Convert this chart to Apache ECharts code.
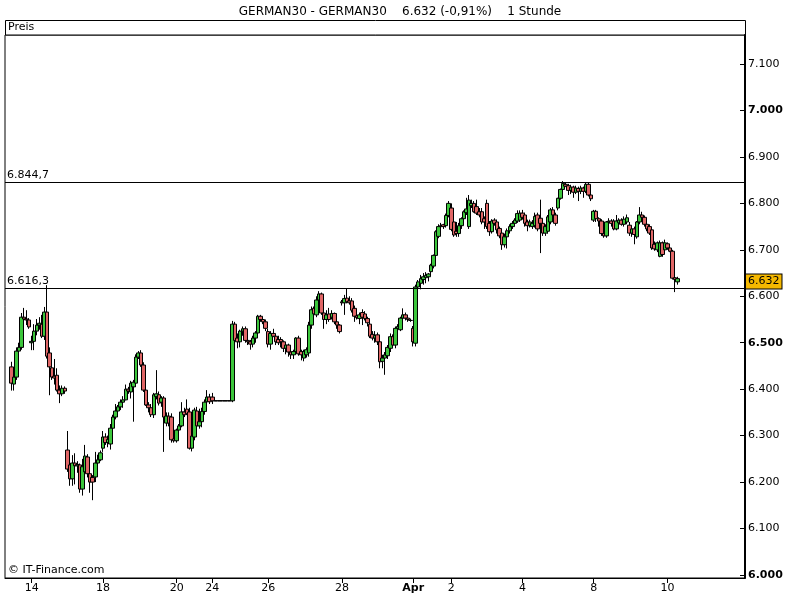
<!DOCTYPE html>
<html><head><meta charset="utf-8">
<script src="https://cdn.jsdelivr.net/npm/echarts/dist/echarts.min.js"></script>
<style>html,body{margin:0;padding:0;background:#fff}#c{width:800px;height:600px}</style>
</head><body><div id="c"></div>
<script>
// hourly candles, one line per trading day
const opens = [
 6448,6411,6426,6482,6490,6555,6551,6549,
 6500,6503,6525,6538,6540,6514,6566,6478,6446,6428,6430,6398,6390,6402,
 6269,6237,6207,6241,6235,6237,6185,6222,6254,6218,6210,6211,6241,6248,
 6273,6297,6285,6282,6316,6340,6353,6362,6372,6377,6400,6394,6405,6413,
 6469,6478,6452,6398,6366,6360,6345,6384,6388,6372,6381,6327,6342,6340,
 6293,6289,6312,6321,6351,6357,6351,6273,6297,6353,6321,6330,6352,6373,6383,6383,
 6375,6375,6375,6375,6375,6375,6375,
 6375,6540,6510,6502,6525,6530,6505,6502,6497,6510,6521,6557,6550,6545,6524,
 6497,6520,6514,6507,6507,6502,6488,6495,6480,6474,6481,6510,6481,6467,
 6474,6478,6538,6574,6560,6592,6605,6564,6550,6562,6555,6563,6545,6538,
 6588,6586,6596,6590,6590,6574,6558,6552,6565,6562,6552,6540,6518,6510,
 6517,6502,6460,6467,6472,6488,6513,6495,6531,6528,6553,6560,6553,6548,
 6531,6499,6620,6628,6636,6640,6642,6653,6665,6688,6729,6750,6754,6752,6774,
 6790,6760,6740,6735,6752,6767,6780,6750,6795,6800,6793,6782,6782,6767,
 6800,6757,6739,6764,6760,6746,6736,6711,6728,6741,6750,6757,6762,6764,
 6779,6775,6760,6752,6750,6752,6775,6768,6757,6736,6740,6760,6786,6775,
 6790,6811,6830,6841,6838,6828,6835,6824,6832,6826,6833,6826,6841,6818,
 6764,6783,6767,6762,6735,6730,6760,6762,6762,6745,6758,6764,6755,6760,
 6753,6736,6745,6728,6760,6775,6770,6755,6750,6743,6712,6700,6686,6715,
 6700,6713,6704,6697,6640,6631
];
const highs = [
 6459,6440,6490,6500,6564,6575,6570,6553,
 6515,6540,6551,6555,6560,6577,6624,6490,6465,6465,6445,6408,6408,6406,
 6310,6258,6258,6262,6245,6240,6250,6280,6260,6225,6215,6265,6259,6268,
 6310,6305,6300,6325,6345,6368,6366,6378,6385,6410,6405,6418,6420,6475,
 6482,6484,6458,6400,6372,6368,6392,6441,6395,6385,6385,6350,6350,6348,
 6300,6315,6325,6372,6360,6378,6360,6305,6360,6362,6358,6360,6378,6398,6390,6392,
 6375,6375,6375,6375,6375,6375,6375,
 6547,6545,6520,6528,6535,6535,6510,6506,6515,6525,6560,6560,6555,6550,6530,
 6525,6530,6518,6515,6512,6505,6500,6498,6485,6485,6512,6515,6485,6485,
 6490,6545,6578,6578,6600,6611,6608,6572,6570,6575,6570,6565,6550,6540,
 6592,6603,6617,6600,6596,6580,6562,6565,6572,6568,6556,6545,6525,6525,
 6522,6508,6474,6480,6495,6520,6518,6535,6540,6556,6574,6565,6558,6552,
 6536,6625,6635,6646,6650,6652,6650,6670,6690,6742,6755,6758,6756,6778,6805,
 6800,6765,6760,6758,6770,6785,6812,6818,6808,6805,6808,6790,6790,6772,
 6808,6762,6766,6768,6765,6750,6740,6735,6746,6755,6762,6768,6785,6785,
 6786,6780,6765,6765,6764,6780,6780,6808,6762,6755,6775,6790,6792,6780,
 6812,6832,6848,6845,6842,6840,6838,6838,6836,6838,6836,6845,6846,6822,
 6786,6786,6770,6766,6748,6762,6768,6766,6766,6775,6768,6768,6772,6776,
 6760,6748,6750,6762,6792,6782,6774,6760,6755,6746,6718,6718,6720,6718,
 6722,6716,6708,6700,6645,6642
];
const lows = [
 6397,6397,6420,6470,6485,6545,6538,6530,
 6484,6484,6516,6528,6510,6506,6466,6387,6420,6410,6395,6370,6385,6390,
 6222,6192,6192,6195,6220,6177,6171,6215,6210,6177,6161,6200,6238,6245,
 6265,6280,6275,6270,6310,6335,6345,6355,6360,6376,6390,6380,6330,6405,
 6465,6448,6394,6364,6350,6340,6338,6378,6365,6362,6265,6320,6320,6285,
 6285,6285,6305,6318,6340,6345,6270,6266,6290,6318,6315,6318,6345,6370,6368,6368,
 6375,6375,6375,6375,6375,6375,6375,
 6372,6500,6488,6490,6515,6500,6495,6485,6490,6500,6515,6545,6540,6525,6490,
 6485,6512,6495,6495,6490,6480,6475,6470,6465,6465,6475,6472,6462,6460,
 6468,6470,6530,6555,6555,6585,6560,6530,6540,6545,6550,6540,6530,6520,
 6580,6560,6585,6582,6565,6545,6550,6540,6538,6548,6535,6510,6505,6500,
 6495,6445,6445,6431,6465,6480,6490,6488,6520,6525,6548,6548,6545,6545,
 6492,6492,6615,6615,6625,6628,6632,6645,6660,6685,6725,6740,6745,6748,6770,
 6740,6728,6728,6728,6745,6760,6775,6745,6790,6780,6775,6770,6755,6745,
 6745,6730,6735,6752,6735,6725,6700,6705,6703,6735,6745,6752,6758,6760,
 6765,6750,6740,6748,6745,6748,6740,6693,6730,6730,6735,6755,6770,6752,
 6785,6808,6825,6835,6818,6820,6812,6820,6805,6820,6812,6822,6815,6805,
 6760,6760,6750,6730,6726,6726,6752,6750,6742,6742,6752,6752,6750,6755,
 6730,6728,6712,6724,6755,6765,6750,6740,6732,6700,6698,6695,6684,6685,
 6695,6700,6695,6636,6609,6625
];
const closes = [
 6413,6426,6482,6490,6555,6551,6549,6534,
 6503,6525,6538,6542,6514,6566,6471,6448,6426,6424,6398,6390,6402,6396,
 6228,6207,6241,6235,6238,6185,6233,6256,6218,6200,6200,6241,6248,6263,
 6297,6285,6292,6316,6340,6353,6362,6372,6377,6400,6396,6413,6415,6469,
 6478,6452,6398,6366,6360,6345,6388,6390,6370,6381,6340,6342,6327,6291,
 6289,6312,6321,6351,6345,6347,6273,6299,6355,6321,6330,6352,6372,6383,6373,6375,
 6375,6375,6375,6375,6375,6375,6375,
 6540,6505,6502,6525,6530,6505,6502,6497,6510,6521,6557,6550,6545,6531,6497,
 6520,6514,6502,6500,6502,6488,6495,6480,6474,6481,6510,6476,6474,6481,
 6485,6538,6571,6562,6592,6605,6564,6550,6560,6550,6563,6545,6538,6524,
 6586,6595,6588,6586,6570,6557,6554,6560,6555,6552,6543,6514,6510,6516,
 6502,6459,6467,6474,6490,6513,6495,6531,6535,6553,6560,6553,6550,6548,
 6502,6620,6631,6638,6642,6645,6648,6667,6688,6739,6750,6752,6750,6774,6800,
 6744,6732,6735,6752,6767,6782,6788,6807,6800,6782,6779,6775,6760,6760,
 6750,6739,6762,6757,6743,6730,6711,6728,6741,6750,6757,6764,6778,6779,
 6770,6757,6752,6760,6757,6772,6745,6757,6736,6750,6771,6786,6775,6757,
 6811,6830,6843,6837,6828,6835,6824,6833,6826,6833,6826,6841,6818,6810,
 6783,6767,6762,6735,6730,6760,6762,6757,6745,6762,6764,6755,6766,6769,
 6736,6745,6733,6760,6775,6770,6755,6745,6736,6704,6702,6715,6715,6690,
 6715,6704,6697,6639,6636,6638
];
const leadingEmptySlots = 2;
const totalSlots = 291;
const dayLabels = ['14','18','20','24','26','28','Apr','2','4','8','10'];
const dayLabelSlots = [10,38,67,81,103,132,160,175,203,231,260];
const boldDayLabels = ['Apr'];
const yTicks = [6000,6100,6200,6300,6400,6500,6600,6700,6800,6900,7000,7100];
const boldTicks = [6000,6500,7000];
const refLines = [6844.7, 6616.3];
const lastPrice = 6632;
const titleText = 'GERMAN30 - GERMAN30    6.632 (-0,91%)    1 Stunde';

function fmtInt(v){ return String(Math.round(v)).replace(/\B(?=(\d{3})+(?!\d))/g,'.'); }
function fmtDec(v){ const p = v.toFixed(1).split('.'); return fmtInt(+p[0]) + ',' + p[1]; }

const categories = [];
for (let i = 0; i < totalSlots; i++) categories.push(String(i));
const candleData = [];
for (let i = 0; i < totalSlots; i++) {
  const k = i - leadingEmptySlots;
  if (k >= 0 && k < opens.length) candleData.push([opens[k], closes[k], lows[k], highs[k]]);
  else candleData.push(['-','-','-','-']);
}

const FONT = 'DejaVu Sans';
const chart = echarts.init(document.getElementById('c'), null, {renderer:'canvas'});
const markData = refLines.map(v => ({
  yAxis: v,
  lineStyle: {color:'#000', width:1, type:'solid'},
  label: {show:true, position:'insideStartTop', formatter: fmtDec(v), color:'#000', fontSize:11, fontFamily:FONT, distance:2}
}));
markData.push({
  yAxis: lastPrice,
  lineStyle: {color:'rgba(0,0,0,0)', width:1},
  label: {show:true, position:'end', formatter: fmtInt(lastPrice), color:'#000', fontSize:11, fontFamily:FONT,
          backgroundColor:'#f5b800', borderColor:'#000', borderWidth:1, padding:[2,2,1,2], distance:1, opacity:1}
});

chart.setOption({
  animation:false,
  backgroundColor:'#fff',
  title:{text:titleText, left:'center', top:1, textStyle:{fontSize:12, fontWeight:'normal', color:'#000', fontFamily:FONT}},
  grid:{left:5, right:55, top:35, bottom:22, show:true, borderColor:'#000', borderWidth:1, backgroundColor:'#fff'},
  xAxis:{
    type:'category', data:categories, boundaryGap:true,
    axisLine:{show:true, lineStyle:{color:'#000', width:1}},
    axisTick:{show:true, alignWithLabel:true, length:5, interval:(i)=>dayLabelSlots.includes(i), lineStyle:{color:'#000'}},
    axisLabel:{show:true, interval:(i)=>dayLabelSlots.includes(i), color:'#000', fontSize:11, fontFamily:FONT, margin:5,
      formatter:(v,i)=>{ const t = dayLabels[dayLabelSlots.indexOf(i)] || ''; return boldDayLabels.includes(t) ? '{b|'+t+'}' : t; },
      rich:{b:{fontWeight:'bold', fontSize:11, fontFamily:FONT, color:'#000'}}},
    splitLine:{show:false}
  },
  yAxis:{
    type:'value', position:'right', min:5993.5, max:7162.5,
    splitLine:{show:false},
    axisLine:{show:true, lineStyle:{color:'#000', width:2}},
    axisTick:{show:true, inside:true, length:5, lineStyle:{color:'#000'}, customValues:yTicks},
    axisLabel:{show:true, color:'#000', fontSize:11, fontFamily:FONT, margin:3, customValues:yTicks,
      formatter:(v)=> boldTicks.includes(v) ? '{b|'+fmtInt(v)+'}' : fmtInt(v),
      rich:{b:{fontWeight:'bold', fontSize:11, fontFamily:FONT, color:'#000'}}}
  },
  series:[{
    type:'candlestick', data:candleData, barWidth:4,
    itemStyle:{color:'#3cc63c', color0:'#e06666', borderColor:'#000', borderColor0:'#000', borderColorDoji:'#000', borderWidth:1},
    markLine:{symbol:'none', silent:true, animation:false, data:markData}
  }],
  graphic:[
    {type:'rect', shape:{x:5.5, y:20.5, width:740, height:14.5}, style:{fill:'#fff', stroke:'#000', lineWidth:1}},
    {type:'text', x:8, y:22, style:{text:'Preis', font:'11px '+FONT, fill:'#000'}},
    {type:'text', x:8, y:565, style:{text:'© IT-Finance.com', font:'11px '+FONT, fill:'#000'}}
  ]
});
</script>
</body></html>
